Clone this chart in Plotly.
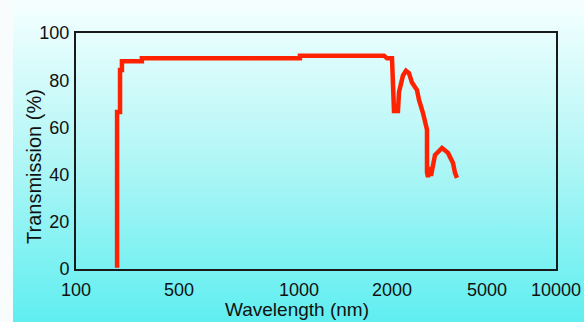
import base64
import numpy as np
import plotly.graph_objects as go

# ---- data ----
tick_wavelengths = [100, 500, 1000, 2000, 5000, 10000]
tick_labels = ["100", "500", "1000", "2000", "5000", "10000"]
# the chart's x scale is piecewise (hand-drawn): axis units assigned to each tick
tick_units = [0, 103, 223, 316, 411, 480]

wavelength_nm = [190, 190, 199, 199, 205, 205, 280, 280, 1007, 1007, 1884, 1927,
                 2000, 2019, 2039, 2119, 2140, 2224, 2289, 2356, 2425, 2545, 2595,
                 2697, 2776, 2803, 2803, 2830, 2885, 2913, 3028, 3240, 3433, 3602,
                 3672, 3744]
transmission_pct = [0.5, 66.5, 66.5, 84.3, 84.3, 88.0, 88.0, 89.3, 89.3, 90.4, 90.4, 89.3,
                    89.3, 75.0, 67.0, 67.0, 75.0, 82.0, 84.0, 83.0, 79.0, 75.8, 71.6,
                    66.1, 61.9, 59.0, 41.0, 39.0, 43.2, 39.5, 48.3, 51.3, 49.2, 44.9,
                    40.7, 38.6]
y_ticks = [0, 20, 40, 60, 80, 100]


def to_axis(wl):
    return np.interp(np.log10(wl), np.log10(tick_wavelengths), tick_units)


W, H = 584, 322
svg = f'''<svg xmlns="http://www.w3.org/2000/svg" width="{W}" height="{H}" preserveAspectRatio="none">
<defs><linearGradient id="g" x1="0" y1="0" x2="0" y2="1">
<stop offset="0" stop-color="#f6ffff"/><stop offset="0.5" stop-color="#b0f6f6"/><stop offset="1" stop-color="#60eef0"/>
</linearGradient></defs>
<rect x="0" y="0" width="{W}" height="{H}" fill="url(#g)"/>
<rect x="0" y="0" width="13" height="{H}" fill="#f8fcfc"/>
</svg>'''
bg_src = "data:image/svg+xml;base64," + base64.b64encode(svg.encode()).decode()

fig = go.Figure()
fig.add_trace(go.Scatter(
    x=to_axis(wavelength_nm), y=transmission_pct, mode="lines",
    line=dict(color="#ff2200", width=4.5), hoverinfo="skip", showlegend=False))

font = "Liberation Sans, Arial, sans-serif"
fig.update_layout(
    width=W, height=H, margin=dict(l=0, r=0, t=0, b=0, autoexpand=False),
    paper_bgcolor="rgba(0,0,0,0)", plot_bgcolor="rgba(0,0,0,0)",
    font=dict(family=font, color="#111", size=18),
    images=[dict(source=bg_src, xref="paper", yref="paper", x=0, y=1, sizex=1, sizey=1,
                 sizing="stretch", layer="below", xanchor="left", yanchor="top")],
    xaxis=dict(domain=[76 / W, 556 / W], range=[0, 480], tickvals=tick_units,
               ticktext=tick_labels, showgrid=False, zeroline=False, ticks="",
               showline=True, linecolor="#1a1a1a", linewidth=2, mirror=True,
               automargin=False, ticklabelstandoff=3, tickfont=dict(size=18)),
    yaxis=dict(domain=[(H - 269) / H, (H - 33) / H], range=[0, 100], tickvals=y_ticks,
               showgrid=False, zeroline=False, ticks="", showline=True,
               linecolor="#1a1a1a", linewidth=2, mirror=True, automargin=False,
               ticklabelstandoff=1, tickfont=dict(size=18)),
    annotations=[
        dict(text="Transmission (%)", textangle=-90, xref="paper", yref="paper",
             x=34 / W, y=1 - 167 / H, showarrow=False, font=dict(size=20),
             xanchor="center", yanchor="middle"),
        dict(text="Wavelength (nm)", xref="paper", yref="paper",
             x=297 / W, y=1 - 309 / H, showarrow=False, font=dict(size=19),
             xanchor="center", yanchor="middle"),
    ],
)
fig.write_html("out.html", config={"displayModeBar": False},
               post_script="document.body.style.margin='0';document.body.style.overflow='hidden';")
